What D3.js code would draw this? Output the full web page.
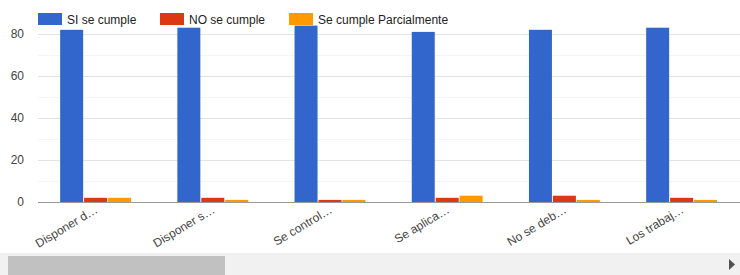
<!DOCTYPE html>
<html><head><meta charset="utf-8">
<script src="https://cdn.jsdelivr.net/npm/d3@7"></script>
<style>body{margin:0;background:#fff;overflow:hidden}svg{display:block;font-family:Arial,"Liberation Sans",sans-serif}</style>
</head><body><svg id="c" width="740" height="275"></svg>
<script>
const categories = ["Disponer d…","Disponer s…","Se control…","Se aplica…","No se deb…","Los trabaj…"];
const seriesNames = ["SI se cumple","NO se cumple","Se cumple Parcialmente"];
const siValues = [82,83,84,81,82,83];
const noValues = [2,2,1,2,3,2];
const parcialValues = [2,1,1,3,1,1];
const yTicks = [0,20,40,60,80];
const colors = ["#3366cc","#dc3912","#ff9900"];

(function(){
const svg = d3.select("#c");
const pLeft = 38, pRight = 740, pTop = 34, pBottom = 202;
const step = 117.2;
const x = d3.scaleBand().domain(categories).range([pLeft - 1, pLeft - 1 + step*categories.length]).paddingInner(0.395).paddingOuter(0.1975);
const xi = d3.scaleBand().domain(seriesNames).range([0, x.bandwidth()]).paddingInner(0.04);
const y = d3.scaleLinear().domain([0,80]).range([pBottom, pTop]);

const minor = d3.range(10, 80, 20);
svg.append("g").selectAll("line").data(minor).join("line")
  .attr("x1", pLeft).attr("x2", pRight).attr("y1", d=>Math.round(y(d))+0.5).attr("y2", d=>Math.round(y(d))+0.5)
  .attr("stroke","#f5f5f5");
svg.append("g").selectAll("line").data(yTicks.filter(d=>d>0)).join("line")
  .attr("x1", pLeft).attr("x2", pRight).attr("y1", d=>Math.round(y(d))+0.5).attr("y2", d=>Math.round(y(d))+0.5)
  .attr("stroke","#e3e3e3");

const yAxis = d3.axisLeft(y).tickValues(yTicks).tickSize(0).tickPadding(0);
const ya = svg.append("g").attr("transform", `translate(${pLeft-14},0)`).call(yAxis);
ya.select(".domain").remove();
ya.selectAll("text").attr("font-size", 12).attr("fill", "#444").attr("font-family","Arial, 'Liberation Sans', sans-serif");

const data = categories.map((c,i)=>({c, vals:[siValues[i], noValues[i], parcialValues[i]]}));
const g = svg.append("g").selectAll("g").data(data).join("g").attr("transform", d=>`translate(${x(d.c)},0)`);
g.selectAll("rect").data(d=>d.vals.map((v,k)=>({k,v}))).join("rect")
  .attr("x", d=>xi(seriesNames[d.k])).attr("width", xi.bandwidth())
  .attr("y", d=>y(d.v)).attr("height", d=>y(0)-y(d.v))
  .attr("fill", d=>colors[d.k]);

svg.append("line").attr("x1", pLeft).attr("x2", pRight).attr("y1", pBottom+0.5).attr("y2", pBottom+0.5).attr("stroke","#999");

const xAxis = d3.axisBottom(x).tickSize(0).tickPadding(0);
const xa = svg.append("g").attr("transform", `translate(0,${pBottom})`).call(xAxis);
xa.select(".domain").remove();
xa.selectAll(".tick text")
  .attr("font-size", 12).attr("fill","#444").attr("font-family","Arial, 'Liberation Sans', sans-serif")
  .attr("text-anchor","end").attr("dy", null).attr("y", 0)
  .attr("transform", "translate(3,10) rotate(-31)");

const lx = [38, 160, 289];
const lg = svg.append("g").selectAll("g").data(seriesNames).join("g").attr("transform",(d,i)=>`translate(${lx[i]},13)`);
lg.append("rect").attr("width",24).attr("height",12).attr("fill",(d,i)=>colors[i]);
lg.append("text").attr("x",29).attr("y",10.5).attr("font-size",12).attr("fill","#222").text(d=>d);

svg.append("rect").attr("x",0).attr("y",253).attr("width",740).attr("height",22).attr("fill","#f1f1f1");
svg.append("rect").attr("x",8).attr("y",256).attr("width",217).attr("height",19).attr("fill","#c1c1c1");
svg.append("path").attr("d","M729,259 L735,264.5 L729,270 Z").attr("fill","#505050");
})();
</script></body></html>
